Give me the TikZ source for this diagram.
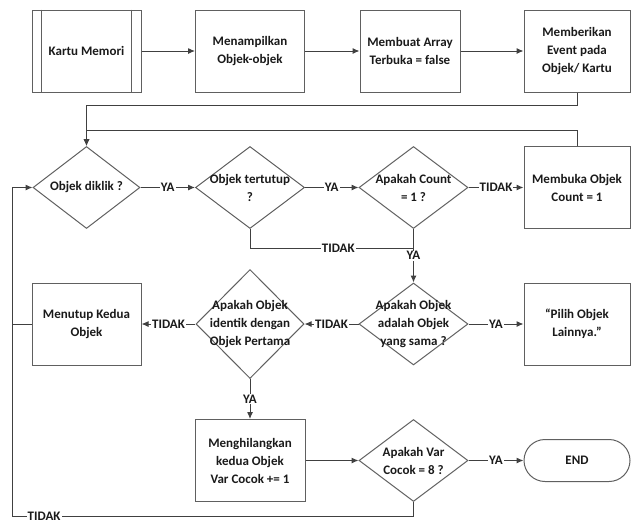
\documentclass[tikz,border=0pt]{standalone}
\usepackage{fontspec}
\setmainfont{Carlito}
\usetikzlibrary{arrows.meta,positioning,shapes.geometric}

\definecolor{linegray}{HTML}{404040}
\definecolor{boxgray}{HTML}{606060}
\definecolor{txtdark}{HTML}{1A1A1A}

\begin{document}
\begin{tikzpicture}[->,>={Latex[length=7pt,width=6pt]},line width=1pt,draw=linegray,
  font=\bfseries\fontsize{13}{18}\selectfont,text=txtdark,
  on grid,node distance=136.5pt and 163.5pt,
  proses/.style={rectangle,draw=boxgray,align=center,minimum width=109pt,minimum height=82pt,inner sep=2pt},
  keputusan/.style={diamond,draw=boxgray,align=center,minimum width=109pt,minimum height=82pt,inner sep=-14pt},
  akhir/.style={rectangle,rounded corners=21pt,draw=boxgray,minimum width=106pt,minimum height=42pt},
  lbl/.style={fill=white,inner sep=1pt}]
  \useasboundingbox (0,0) rectangle (631pt,-525pt);

  \node [proses] (kartu) at (86.5pt,-51pt) {Kartu Memori};
  \node [proses,right=of kartu] (tampil) {Menampilkan\\Objek-objek};
  \node [proses,right=of tampil,xshift=-3.5pt,minimum width=100pt] (array) {Membuat Array\\Terbuka = false};
  \node [proses,right=of array,xshift=3.5pt,minimum width=106pt] (event) {Memberikan\\Event pada\\Objek/ Kartu};

  \node [keputusan,below=of kartu,minimum width=107pt] (diklik) {Objek diklik ?};
  \node [keputusan,right=of diklik] (tertutup) {Objek tertutup\\?};
  \node [keputusan,right=of tertutup] (count) {Apakah Count\\= 1 ?};
  \node [proses,right=of count,minimum width=106pt] (buka) {Membuka Objek\\Count = 1};

  \node [proses,below=of diklik] (tutup) {Menutup Kedua\\Objek};
  \node [keputusan,below=of tertutup,minimum width=108pt,minimum height=109pt] (identik) {Apakah Objek\\identik dengan\\Objek Pertama};
  \node [keputusan,below=of count] (sama) {Apakah Objek\\adalah Objek\\yang sama ?};
  \node [proses,right=of sama,minimum width=106pt] (pilih) {“Pilih Objek\\Lainnya.”};

  \node [proses,below=of identik,minimum width=110pt] (hilang) {Menghilangkan\\kedua Objek\\Var Cocok += 1};
  \node [keputusan,right=of hilang] (cocok) {Apakah Var\\Cocok = 8 ?};
  \node [akhir,right=of cocok] (selesai) {END};

  \draw[-,draw=boxgray] ([xshift=10pt]kartu.north west) -- ([xshift=10pt]kartu.south west);
  \draw[-,draw=boxgray] ([xshift=-10pt]kartu.north east) -- ([xshift=-10pt]kartu.south east);

  \draw (kartu) -- (tampil);
  \draw (tampil) -- (array);
  \draw (array) -- (event);
  \draw (event.south) -- ++(0,-13pt) -| (diklik.north);
  \draw (buka.north) -- ++(0,16pt) -| (diklik.north);

  \draw (diklik) -- node[lbl] {YA} (tertutup);
  \draw (tertutup) -- node[lbl] {YA} (count);
  \draw (count) -- node[lbl] {TIDAK} (buka);
  \coordinate [below=19pt of count.south] (gabung);
  \draw[-] (tertutup.south) |- node[lbl,pos=0.77] {TIDAK} (gabung);
  \draw (count.south) -- node[lbl] {YA} (sama.north);

  \draw (sama) -- node[lbl] {YA} (pilih);
  \draw (sama) -- node[lbl] {TIDAK} (identik);
  \draw (identik) -- node[lbl] {TIDAK} (tutup);
  \draw (identik) -- node[lbl] {YA} (hilang);
  \draw (hilang) -- (cocok);
  \draw (cocok) -- node[lbl] {YA} (selesai);

  \coordinate (pojok) at (12pt,-516pt);
  \draw (cocok.south) |- node[lbl,pos=0.96] {TIDAK} (pojok) |- (diklik.west);
  \draw[-] (tutup.west) -- (tutup.west -| pojok);

\end{tikzpicture}
\end{document}
